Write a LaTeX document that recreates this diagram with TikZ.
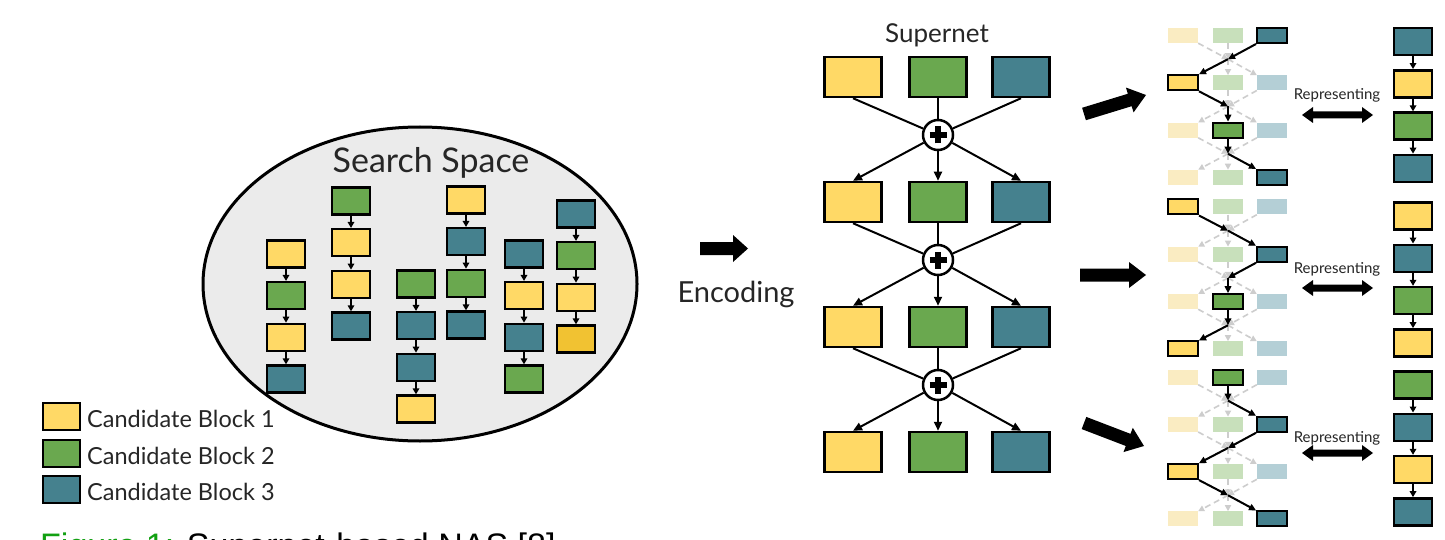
\documentclass[tikz,border=0pt]{standalone}
\usepackage{fontspec}
\setmainfont{Lato}
\newfontfamily\capfont{Liberation Sans}
\usetikzlibrary{arrows.meta,calc,shapes.geometric}

\definecolor{cy}{HTML}{FFD966}
\definecolor{cyd}{HTML}{F1C232}
\definecolor{cg}{HTML}{6AA84F}
\definecolor{ct}{HTML}{45818E}
\colorlet{k1}{cy}\colorlet{k2}{cg}\colorlet{k3}{ct}
\definecolor{f1}{HTML}{FAECC2}
\definecolor{f2}{HTML}{C8E0BB}
\definecolor{f3}{HTML}{B4CFD6}
\definecolor{spacefill}{HTML}{EBEBEB}
\definecolor{faintgray}{HTML}{CDCDCD}
\definecolor{capgreen}{HTML}{12A012}

\tikzset{
  blk/.style={draw=black, line width=2.5pt, inner sep=0pt, minimum width=38pt, minimum height=27pt},
  sblk/.style={draw=black, line width=2.5pt, inner sep=0pt, minimum width=57pt, minimum height=40pt},
  mini/.style={draw=black, line width=2pt, inner sep=0pt, minimum width=30pt, minimum height=15pt},
  minifade/.style={inner sep=0pt, minimum width=30pt, minimum height=15pt},
  link/.style={line width=1.8pt, -{Triangle[length=6pt,width=6.5pt]}},
  sline/.style={line width=2pt},
  sarrow/.style={line width=2pt, -{Triangle[length=9pt,width=8pt]}},
  plus/.style={circle, draw=black, line width=2.5pt, fill=white, minimum size=30pt, inner sep=0pt,
    path picture={
      \draw[line width=5.5pt] ([xshift=-8.5pt]path picture bounding box.center) -- ([xshift=8.5pt]path picture bounding box.center);
      \draw[line width=5.5pt] ([yshift=-8.5pt]path picture bounding box.center) -- ([yshift=8.5pt]path picture bounding box.center);
    }},
  faint/.style={line width=1.6pt, draw=faintgray, -{Triangle[length=6pt,width=6pt]}},
  bold/.style={line width=2pt, draw=black, -{Triangle[length=7pt,width=6.5pt]}},
  label/.style={inner sep=0pt, text=black!85},
}

% thick block arrow from #1 to #2: shaft half-width #3, head half-width #4, head length #5
\newcommand\fatarr[5]{%
  \coordinate (#1-hb) at ($(#2)!#5!(#1)$);
  \fill ($(#1)!#3!90:(#2)$) -- ($(#1-hb)!#3!90:(#2)$) -- ($(#1-hb)!#4!90:(#2)$) -- (#2)
    -- ($(#1-hb)!#4!-90:(#2)$) -- ($(#1-hb)!#3!-90:(#2)$) -- ($(#1)!#3!-90:(#2)$) -- cycle;
}
% two-headed block arrow
\newcommand\dblarr[5]{%
  \coordinate (#1-ha) at ($(#1)!#5!(#2)$);
  \coordinate (#1-hb) at ($(#2)!#5!(#1)$);
  \fill (#1) -- ($(#1-ha)!#4!90:(#2)$) -- ($(#1-ha)!#3!90:(#2)$) -- ($(#1-hb)!#3!90:(#2)$)
    -- ($(#1-hb)!#4!90:(#2)$) -- (#2) -- ($(#1-hb)!#4!-90:(#2)$) -- ($(#1-hb)!#3!-90:(#2)$)
    -- ($(#1-ha)!#3!-90:(#2)$) -- ($(#1-ha)!#4!-90:(#2)$) -- cycle;
}
% vertical chain of four candidate blocks: name, x, top y, colours
\newcommand\sschain[4]{%
  \foreach \col [count=\i] in {#4}{
    \node[blk, fill=\col] (#1-\i) at (#2, {#3+41.7*(\i-1)}) {};
  }
  \foreach \i [evaluate=\i as \j using int(\i+1)] in {1,2,3}{
    \draw[link] (#1-\i) -- (#1-\j);
  }
}
% one sampled path: id, grid top, chain top, label baseline, arrow y, chosen column per row
\newcommand\pathpanel[9]{%
  \foreach \r/\s in {1/#6,2/#7,3/#8,4/#9}{
    \foreach \c/\x/\sa/\ta in {1/1183/south east/north east,2/1228/south/north,3/1272/south west/north west}{
      \ifnum\c=\s\relax
        \node[mini, fill=k\c] (#1g\r\c) at (\x, {#2+47.3*(\r-1)}) {};
      \else
        \node[minifade, fill=f\c] (#1g\r\c) at (\x, {#2+47.3*(\r-1)}) {};
      \fi
      \coordinate (#1o\r\c) at (#1g\r\c.\sa);
      \coordinate (#1i\r\c) at (#1g\r\c.\ta);
    }
  }
  \foreach \r in {1,2,3}{
    \coordinate (#1j\r) at (1228, {#2+47.3*(\r-1)+23.65});
  }
  % all supernet edges, faded
  \foreach \r [evaluate=\r as \rr using int(\r+1)] in {1,2,3}{
    \foreach \c/\st in {1/dashed,2/solid,3/dashed}{
      \draw[faint, \st, dash pattern=on 6pt off 4pt] (#1o\r\c) -- (#1j\r);
      \draw[faint, \st, dash pattern=on 6pt off 4pt] (#1j\r) -- (#1i\rr\c);
    }
  }
  % the chosen path
  \foreach \r/\s/\t [evaluate=\r as \rr using int(\r+1)] in {1/#6/#7,2/#7/#8,3/#8/#9}{
    \draw[bold] (#1o\r\s) -- (#1j\r);
    \draw[bold] (#1j\r) -- (#1i\rr\t);
  }
  % equivalent plain chain
  \foreach \r/\s in {1/#6,2/#7,3/#8,4/#9}{
    \node[blk, fill=k\s] (#1c\r) at (1413, {#3+42.3*(\r-1)}) {};
  }
  \foreach \r [evaluate=\r as \rr using int(\r+1)] in {1,2,3}{
    \draw[link] (#1c\r) -- (#1c\rr);
  }
  \node[label, anchor=base, font=\fontsize{15}{17}\selectfont] (#1lab) at (1337,#4) {Representing};
  \coordinate (#1da) at (1302,#5);
  \coordinate (#1db) at (1373,#5);
  \dblarr{#1da}{#1db}{3.5pt}{8pt}{11pt}
}

\begin{document}
\begin{tikzpicture}[x=1pt, y=-1pt]
\useasboundingbox (0,0) rectangle (1445,540);
\clip (0,0) rectangle (1445,540);
\fill[white] (0,0) rectangle (1445,540);

% ---------- search space ----------
\node[ellipse, draw=black, line width=3pt, fill=spacefill, minimum width=434pt, minimum height=314pt, inner sep=0pt] (space) at (420,284) {};
\node[label, anchor=base, font=\fontsize{34}{40}\selectfont] (sstitle) at (431,173) {Search Space};

\sschain{sa}{286}{254}{cy,cg,cy,ct}
\sschain{sb}{351}{201}{cg,cy,cy,ct}
\sschain{sc}{416}{284}{cg,ct,ct,cy}
\sschain{sd}{466}{200}{cy,ct,cg,ct}
\sschain{se}{524}{254}{ct,cy,ct,cg}
\sschain{sf}{576}{214}{ct,cg,cy,cyd}

% ---------- legend ----------
\foreach \k/\y/\t in {cy/416.5/1, cg/453.5/2, ct/489.5/3}{
  \node[blk, fill=\k, minimum width=37pt] (leg\t) at (61.5,\y) {};
  \node[label, anchor=base west, font=\fontsize{23.5}{28}\selectfont] (legt\t) at (87,{\y+10.5}) {Candidate Block \t};
}

% ---------- encoding ----------
\coordinate (enca) at (700,248.5);
\coordinate (encb) at (748,248.5);
\fatarr{enca}{encb}{6.5pt}{13.5pt}{15pt}
\node[label, anchor=base, font=\fontsize{29}{34}\selectfont] (enc) at (736,302) {Encoding};

% ---------- supernet ----------
\node[label, anchor=base, font=\fontsize{26}{30}\selectfont] (sntitle) at (937,43) {Supernet};
\foreach \r/\y in {1/77,2/202,3/327,4/452}{
  \foreach \c/\x/\k in {1/853/cy,2/938/cg,3/1021/ct}{
    \node[sblk, fill=\k] (n\r\c) at (\x,\y) {};
  }
}
\foreach \p/\y in {1/135,2/260,3/385}{
  \node[plus] (p\p) at (938,\y) {};
}
\foreach \p [evaluate=\p as \q using int(\p+1)] in {1,2,3}{
  \foreach \c in {1,2,3}{
    \draw[sline] (n\p\c.south) -- (p\p);
    \draw[sarrow] (p\p) -- (n\q\c.north);
  }
}

% ---------- sampled paths ----------
\coordinate (ra1) at (1084,114); \coordinate (rb1) at (1146,95);
\coordinate (ra2) at (1080,275); \coordinate (rb2) at (1146,275);
\coordinate (ra3) at (1084,423); \coordinate (rb3) at (1144,446);
\fatarr{ra1}{rb1}{6.5pt}{13pt}{17pt}
\fatarr{ra2}{rb2}{6.5pt}{13pt}{17pt}
\fatarr{ra3}{rb3}{6.5pt}{13pt}{17pt}

\pathpanel{pa}{35.5}{41.5}{100}{115}{3}{1}{2}{3}
\pathpanel{pb}{207}{216}{273}{288}{1}{3}{2}{1}
\pathpanel{pc}{377}{385}{442}{453}{2}{3}{1}{3}

% ---------- caption ----------
\node[anchor=north west, inner sep=0pt, font=\capfont\fontsize{34}{40}\selectfont] (cap) at (40,533)
  {\textcolor{capgreen}{Figure 1:} Supernet-based NAS [8]};
\end{tikzpicture}
\end{document}
